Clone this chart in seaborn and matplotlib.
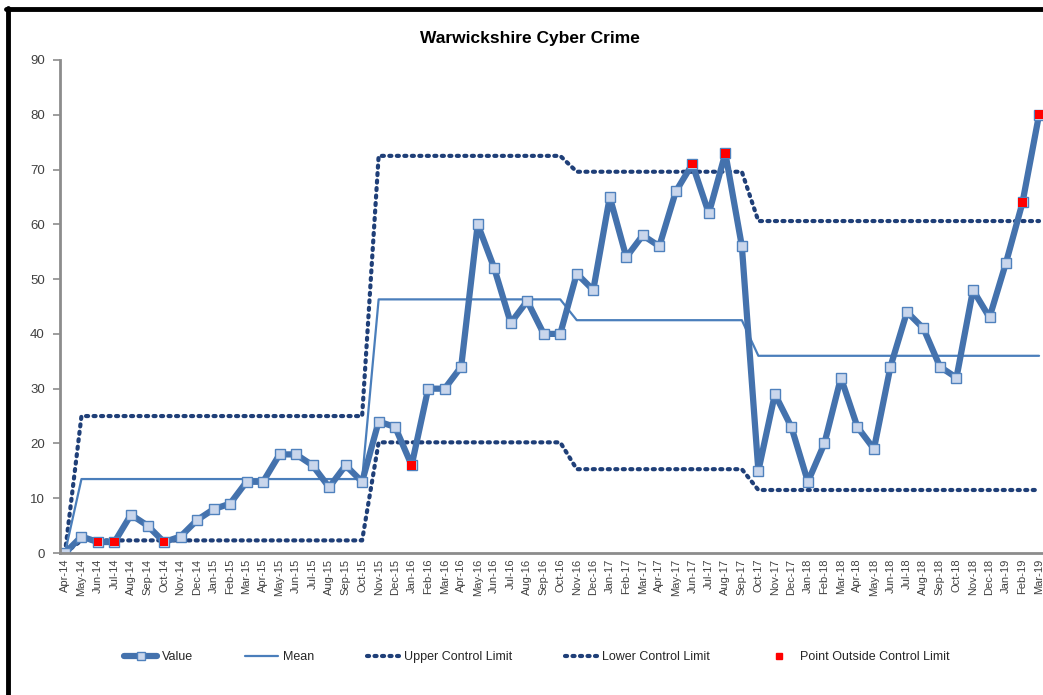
import numpy as np
import matplotlib
matplotlib.use('Agg')
import matplotlib.pyplot as plt
import seaborn as sns
from matplotlib.lines import Line2D

#--------------------------------------------------
# data
months = ['Apr-14', 'May-14', 'Jun-14', 'Jul-14', 'Aug-14', 'Sep-14', 'Oct-14', 'Nov-14', 'Dec-14',
          'Jan-15', 'Feb-15', 'Mar-15', 'Apr-15', 'May-15', 'Jun-15', 'Jul-15', 'Aug-15', 'Sep-15',
          'Oct-15', 'Nov-15', 'Dec-15', 'Jan-16', 'Feb-16', 'Mar-16', 'Apr-16', 'May-16', 'Jun-16',
          'Jul-16', 'Aug-16', 'Sep-16', 'Oct-16', 'Nov-16', 'Dec-16', 'Jan-17', 'Feb-17', 'Mar-17',
          'Apr-17', 'May-17', 'Jun-17', 'Jul-17', 'Aug-17', 'Sep-17', 'Oct-17', 'Nov-17', 'Dec-17',
          'Jan-18', 'Feb-18', 'Mar-18', 'Apr-18', 'May-18', 'Jun-18', 'Jul-18', 'Aug-18', 'Sep-18',
          'Oct-18', 'Nov-18', 'Dec-18', 'Jan-19', 'Feb-19', 'Mar-19']

values = [0, 3, 2, 2, 7, 5, 2, 3, 6, 8, 9, 13, 13, 18, 18, 16, 12, 16, 13, 24, 23, 16, 30, 30,
          34, 60, 52, 42, 46, 40, 40, 51, 48, 65, 54, 58, 56, 66, 71, 62, 73, 56, 15, 29, 23, 13,
          20, 32, 23, 19, 34, 44, 41, 34, 32, 48, 43, 53, 64, 80]

mean = [0] + [13.5] * 18 + [46.3] * 12 + [42.5] * 11 + [36.0] * 18
ucl = [0] + [25.0] * 18 + [72.5] * 12 + [69.6] * 11 + [60.6] * 18
lcl = [0] + [2.3] * 18 + [20.2] * 12 + [15.3] * 11 + [11.5] * 18


#--------------------------------------------------
def main():
    sns.set_style('white')
    plt.rcParams['font.family'] = ['Liberation Sans', 'DejaVu Sans']

    idx = np.arange(len(months))
    vals = np.array(values, dtype=float)
    up = np.array(ucl)
    lo = np.array(lcl)
    outside = np.where(((vals > up) | (vals < lo)) & (idx > 0), vals, np.nan)

    fig = plt.figure(figsize=(10.43, 6.95), dpi=100)
    ax = fig.add_axes([60 / 1043, 1 - 553 / 695, 983 / 1043, 493 / 695])

    navy = '#1f3f78'
    blue = '#4472ad'
    dot = (0, (0.5, 1.3))
    sns.lineplot(x=idx, y=ucl, ax=ax, color=navy, lw=3, linestyle=dot,
                 dash_capstyle='round', label='Upper Control Limit')
    sns.lineplot(x=idx, y=lcl, ax=ax, color=navy, lw=3, linestyle=dot,
                 dash_capstyle='round', label='Lower Control Limit')
    sns.lineplot(x=idx, y=mean, ax=ax, color='#4a7ebb', lw=1.6, label='Mean')
    sns.lineplot(x=idx, y=vals, ax=ax, color=blue, lw=4.5, marker='s', markersize=6.5,
                 markerfacecolor='#c9d6ec', markeredgecolor='#4f81bd', markeredgewidth=1,
                 label='Value')
    sns.scatterplot(x=idx, y=outside, ax=ax, color='#ff0000', marker='s', s=40,
                    edgecolor='none', zorder=5, label='Point Outside Control Limit')

    ax.set_xlim(-0.3, 59.24)
    ax.set_ylim(0, 90)
    ax.set_yticks(np.arange(0, 91, 10))
    ax.set_xticks(idx)
    ax.set_xticklabels(months, rotation=90, fontsize=8, color='#404040')
    ax.tick_params(axis='y', labelsize=9.5, colors='#404040', length=5, width=1.2,
                   direction='out', left=True, color='#8c8c8c', pad=6)
    ax.tick_params(axis='x', length=0, pad=4)
    for s in ['top', 'right']:
        ax.spines[s].set_visible(False)
    for s in ['left', 'bottom']:
        ax.spines[s].set_color('#8c8c8c')
        ax.spines[s].set_linewidth(2)
    ax.set_xlabel('')
    ax.set_ylabel('')

    fig.text(0.508, 0.945, 'Warwickshire Cyber Crime', ha='center', va='center',
             fontsize=12.5, fontweight='bold', color='#000000')

    # legend in the reference order
    h = [Line2D([], [], color=blue, lw=4.5, marker='s', markersize=6,
                markerfacecolor='#c9d6ec', markeredgecolor='#4f81bd'),
         Line2D([], [], color='#4a7ebb', lw=1.6),
         Line2D([], [], color=navy, lw=3, linestyle=dot, dash_capstyle='round'),
         Line2D([], [], color=navy, lw=3, linestyle=dot, dash_capstyle='round'),
         Line2D([], [], color='#ff0000', marker='s', markersize=5, lw=0)]
    labs = ['Value', 'Mean', 'Upper Control Limit', 'Lower Control Limit',
            'Point Outside Control Limit']
    ax.legend_.remove()
    fig.legend(h, labs, loc='center', bbox_to_anchor=(0.515, 1 - 657 / 695), ncol=5,
               frameon=False, fontsize=9, handlelength=2.6, columnspacing=4.2,
               handletextpad=0.4, labelcolor='#262626')

    # black frame on top and left like the cropped screenshot
    fig.add_artist(Line2D([8 / 1043, 8 / 1043], [0, 1 - 8 / 695], color='black', lw=3.5,
                          transform=fig.transFigure))
    fig.add_artist(Line2D([6 / 1043, 1], [1 - 9 / 695, 1 - 9 / 695], color='black', lw=3.5,
                          transform=fig.transFigure))

    fig.savefig('out.png', dpi=100)


#--------------------------------------------------
if __name__ == '__main__':
    main()
